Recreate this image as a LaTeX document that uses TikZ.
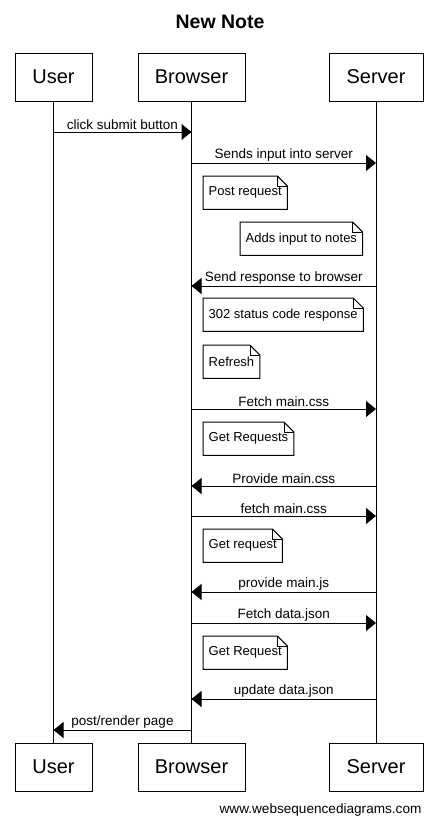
\documentclass[tikz,border=0pt]{standalone}
\usepackage{fontspec}
\setmainfont{Liberation Sans}
\usetikzlibrary{arrows.meta}

\begin{document}
\begin{tikzpicture}[
    x=1pt,
    y=-1pt,
    actor/.style={
        draw,
        line width=1pt,
        font=\fontsize{20}{24}\selectfont,
        minimum height=48pt,
        inner sep=0pt
    },
    note/.style={
        anchor=north west,
        font=\fontsize{13}{15}\selectfont,
        minimum height=33pt,
        inner xsep=5.5pt,
        inner ysep=0pt
    },
    msg/.style={
        line width=1pt,
        -{Triangle[length=10pt,width=16pt]}
    },
    lbl/.style={
        above,
        font=\fontsize{13.5}{15}\selectfont,
        inner sep=1.5pt
    },
    life/.style={
        line width=1pt
    }
]

\useasboundingbox (0,0) rectangle (437,827);

% Title
\node [font=\bfseries\fontsize{19.5}{23}\selectfont] (title) at (220,22) {New Note};

% Participants
\node [actor, minimum width=77pt] (user) at (53.5,77) {User};
\node [actor, minimum width=107pt] (browser) at (191.5,77) {Browser};
\node [actor, minimum width=94pt] (server) at (376,77) {Server};
\node [actor, minimum width=77pt] (user2) at (53.5,767) {User};
\node [actor, minimum width=107pt] (browser2) at (191.5,767) {Browser};
\node [actor, minimum width=94pt] (server2) at (376,767) {Server};

% Lifelines
\draw [life] (user) -- (user2);
\draw [life] (browser) -- (browser2);
\draw [life] (server) -- (server2);

% Messages
\draw [msg] (user |- 0,132) -- node[lbl] {click submit button} (browser |- 0,132);
\draw [msg] (browser |- 0,163) -- node[lbl] {Sends input into server} (server |- 0,163);
\draw [msg] (server |- 0,286) -- node[lbl] {Send response to browser} (browser |- 0,286);
\draw [msg] (browser |- 0,409) -- node[lbl] {Fetch main.css} (server |- 0,409);
\draw [msg] (server |- 0,486) -- node[lbl] {Provide main.css} (browser |- 0,486);
\draw [msg] (browser |- 0,516) -- node[lbl] {fetch main.css} (server |- 0,516);
\draw [msg] (server |- 0,592) -- node[lbl] {provide main.js} (browser |- 0,592);
\draw [msg] (browser |- 0,623) -- node[lbl] {Fetch data.json} (server |- 0,623);
\draw [msg] (server |- 0,699) -- node[lbl] {update data.json} (browser |- 0,699);
\draw [msg] (browser |- 0,730) -- node[lbl] {post/render page} (user |- 0,730);

% Notes
\node [note] (post) at (203,176) {Post request};
\node [note] (adds) at (240,222) {Adds input to notes};
\node [note] (status) at (203,298) {302 status code response};
\node [note] (refresh) at (203,345) {Refresh};
\node [note] (getcss) at (203,422) {Get Requests};
\node [note] (getjs) at (203,529) {Get request};
\node [note] (getjson) at (203,636) {Get Request};

\foreach \n in {post,adds,status,refresh,getcss,getjs,getjson} {
    \draw [line width=1pt] (\n.north west) -- ([xshift=-10pt]\n.north east)
        -- ([yshift=-10pt]\n.north east) -- (\n.south east) -- (\n.south west) -- cycle;
    \draw [line width=0.6pt] ([xshift=-10pt]\n.north east) |- ([yshift=-10pt]\n.north east);
}

% Footer
\node [anchor=east, font=\fontsize{13.6}{16}\selectfont] (credit) at (425,810) {www.websequencediagrams.com};

\end{tikzpicture}
\end{document}
